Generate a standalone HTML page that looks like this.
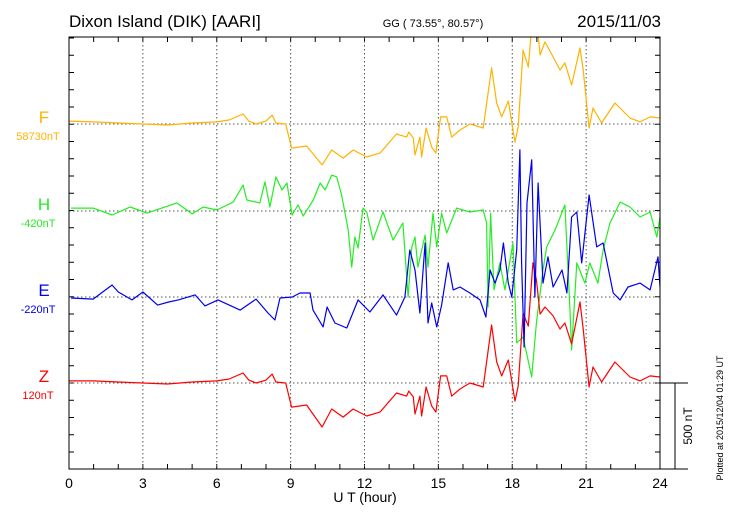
<!DOCTYPE html>
<html><head><meta charset="utf-8"><style>
html,body{margin:0;padding:0;background:#fff;}
svg{display:block;font-family:"Liberation Sans",sans-serif;}
</style></head><body>
<svg id="chart" width="730" height="520" viewBox="0 0 730 520" xmlns="http://www.w3.org/2000/svg">
<rect width="730" height="520" fill="#fff"/>
<text x="69" y="27" font-size="17">Dixon Island (DIK)  [AARI]</text>
<text x="433" y="27" font-size="11" text-anchor="middle">GG ( 73.55°,  80.57°)</text>
<text x="661" y="27" font-size="17" text-anchor="end">2015/11/03</text>
<g id="grid"></g>
<defs><clipPath id="clip"><rect x="69" y="37" width="591" height="432"/></clipPath></defs>
<g id="series" clip-path="url(#clip)"></g>
<rect x="69" y="37" width="591" height="432" fill="none" stroke="#000" stroke-width="1"/>
<g id="labels"></g>
<text x="365" y="502" font-size="14" text-anchor="middle">U T (hour)</text>
<g stroke="#000" stroke-width="1">
<line x1="660" y1="383" x2="688" y2="383"/><line x1="675" y1="383" x2="675" y2="469"/><line x1="660" y1="469" x2="688" y2="469"/>
</g>
<text transform="translate(692,426) rotate(-90)" font-size="12" text-anchor="middle">500 nT</text>
<text transform="translate(723,418) rotate(-90)" font-size="9" text-anchor="middle">Plotted at 2015/12/04 01:29 UT</text>
</svg>
<script>
var xTicks=[0,3,6,9,12,15,18,21,24];
var seriesNames=["F","H","E","Z"];
var seriesBaseLabels=["58730nT","-420nT","-220nT","120nT"];
var fH=[0,1,2,3,4,5,6,6.5,7.07,7.3,7.6,8,8.25,8.4,8.8,9.04,9.65,10.28,10.67,11.13,11.54,12.09,12.63,13.3,13.71,13.8,13.98,14.05,14.25,14.32,14.5,14.73,14.9,15.09,15.34,15.54,15.88,16.28,16.82,17.16,17.37,17.57,17.84,18.11,18.24,18.44,18.65,18.84,18.98,19.13,19.33,19.66,19.94,20.14,20.41,20.75,20.88,21.12,21.28,21.63,22.17,22.78,23.19,23.6,24];
var fV=[17,12,6,0,-6,6,12,23,58,17,0,17,52,6,0,-140,-128,-238,-151,-198,-151,-192,-169,-58,-76,-47,-81,-180,-76,-192,-23,-134,-169,41,41,-76,-35,0,-23,326,122,41,134,-105,-17,430,331,650,620,401,477,390,314,355,227,442,314,-23,93,6,122,35,12,41,35];
var hH=[0.08,0.98,1.75,2.48,3.17,4.38,5,5.45,6,6.67,7.07,7.22,7.75,7.96,8.16,8.4,8.65,8.85,9.06,9.3,9.51,9.92,10.2,10.4,10.67,10.87,11.07,11.34,11.48,11.61,11.74,11.94,12.09,12.35,12.75,13.16,13.56,13.77,13.92,14.05,14.17,14.46,14.58,14.78,14.93,15.13,15.34,15.74,16.28,16.82,16.96,17.02,17.12,17.26,17.5,17.7,18.03,18.18,18.44,18.79,18.98,19.25,19.4,19.74,20.14,20.35,20.41,20.62,20.95,21.15,21.48,21.69,21.97,22.38,22.78,23.19,23.6,23.87,24];
var hV=[17,17,-23,23,-12,47,-17,23,6,52,151,64,47,169,23,198,122,163,-23,35,-29,64,163,122,209,198,93,-110,-326,-151,-215,17,-6,-169,-6,-169,-70,-500,-209,-151,-326,-140,-326,-12,-209,-12,-128,17,-6,6,-70,-558,-12,-459,-302,-459,-186,-767,-733,-965,-651,-343,-209,-110,35,-593,-808,-302,-419,-302,-419,-227,-70,52,23,-35,-6,-151,-35];
var eH=[0.08,0.98,1.75,2,2.56,3,3.6,4.05,4.44,5.12,5.52,6.05,6.95,7.6,8.08,8.36,8.57,9.07,9.38,9.79,9.91,10.32,10.48,10.8,11.28,11.74,12.22,12.75,13.3,13.64,13.84,14.05,14.25,14.46,14.58,14.73,14.93,15.13,15.4,15.6,15.88,16.28,16.69,16.93,17.1,17.3,17.5,17.64,17.84,17.98,18.18,18.31,18.38,18.48,18.6,18.79,18.92,19.05,19.25,19.45,19.66,20.02,20.22,20.41,20.62,20.82,21.12,21.43,21.69,22.1,22.38,22.7,23.19,23.6,23.92,24];
var eV=[-6,-12,70,29,-17,29,-47,-29,-17,12,-52,-17,-76,-12,-93,-134,-6,0,23,23,-76,-174,-58,-151,-180,-17,-87,12,-105,0,273,157,-93,314,-151,-35,-174,-47,198,41,58,23,-17,-116,157,81,157,314,81,0,273,855,198,-291,547,797,0,663,81,233,58,157,23,465,494,198,593,291,314,23,-17,58,81,41,233,58];
var zH=[0,1,2,3,4,5,6,6.5,7.07,7.3,7.6,8,8.25,8.4,8.8,9.04,9.65,10.28,10.67,11.13,11.54,12.09,12.63,13.3,13.71,13.8,13.98,14.05,14.25,14.32,14.5,14.73,14.9,15.09,15.34,15.54,15.88,16.28,16.82,17.16,17.37,17.57,17.84,18.11,18.24,18.44,18.65,18.84,18.98,19.13,19.33,19.66,19.94,20.14,20.41,20.75,20.88,21.12,21.28,21.63,22.17,22.78,23.19,23.6,24];
var zV=[12,12,6,0,-6,6,12,23,58,17,0,17,52,6,0,-140,-128,-256,-151,-198,-151,-192,-169,-58,-76,-47,-81,-180,-76,-192,-23,-134,-169,41,41,-76,-35,0,-23,337,122,41,134,-105,-17,407,331,698,600,401,442,390,314,349,227,471,314,-23,93,6,122,35,12,41,35];
var x0=69,x1=660,pxPerNT=0.172;
var baselines=[124,211,297,383];
var colors=["#ffb300","#22ee22","#0000ee","#ff0000"];
function xs(h){return x0+(x1-x0)*h/24;}
function ys(i,v){return baselines[i]-v*pxPerNT;}
var NS="http://www.w3.org/2000/svg";
var grid=document.getElementById('grid');
function mk(tag,attrs,parent){var e=document.createElementNS(NS,tag);for(var k in attrs)e.setAttribute(k,attrs[k]);parent.appendChild(e);return e;}
for(var h=1;h<24;h++){
 var t1=mk('line',{x1:xs(h),x2:xs(h),y1:37,y2:42,stroke:'#000'},grid);
 
 
 var t2=mk('line',{x1:xs(h),x2:xs(h),y1:464,y2:469,stroke:'#000'},grid);
 
 
}
for(var k=-20;k<=6;k++){
 var yy=383+k*17.25; if(yy<=37||yy>=469)continue;
 var a=mk('line',{x1:69,x2:74,y1:yy,y2:yy,stroke:'#000'},grid);
 
 
 var b=mk('line',{x1:655,x2:660,y1:yy,y2:yy,stroke:'#000'},grid);
 
 
}
xTicks.forEach(function(h){
 if(h>0&&h<24){
  var g=mk('line',{x1:xs(h),x2:xs(h),y1:37,y2:469,stroke:'#555','stroke-dasharray':'1.5,2.5'},grid);
  
  
 }
 var t=mk('text',{x:xs(h),y:488,'font-size':14,'text-anchor':'middle'},document.getElementById('labels'));
 t.textContent=h;
 
 
});
baselines.forEach(function(by,i){
 var g=mk('line',{x1:69,x2:660,y1:by,y2:by,stroke:'#555','stroke-dasharray':'1.5,2.5'},grid);
 
 
 var L=document.getElementById('labels');
 var n=mk('text',{x:44,y:by-1,'font-size':17,'text-anchor':'middle',fill:colors[i]},L);
 n.textContent=seriesNames[i];
 
 
 var s=mk('text',{x:38,y:by+16,'font-size':11,'text-anchor':'middle',fill:colors[i]},L);
 s.textContent=seriesBaseLabels[i];
 
 
});
var S=document.getElementById('series');
var data=[[fH,fV],[hH,hV],[eH,eV],[zH,zV]];
[0,1,3,2].forEach(function(i){
 var hs=data[i][0],vs=data[i][1],d='';
 for(var j=0;j<hs.length;j++){d+=(j?'L':'M')+xs(hs[j]).toFixed(1)+','+ys(i,vs[j]).toFixed(1);}
 var p=mk('path',{d:d,fill:'none',stroke:colors[i],'stroke-width':1.2,'stroke-linejoin':'round'},S);
 
 
});
</script>
</body></html>
